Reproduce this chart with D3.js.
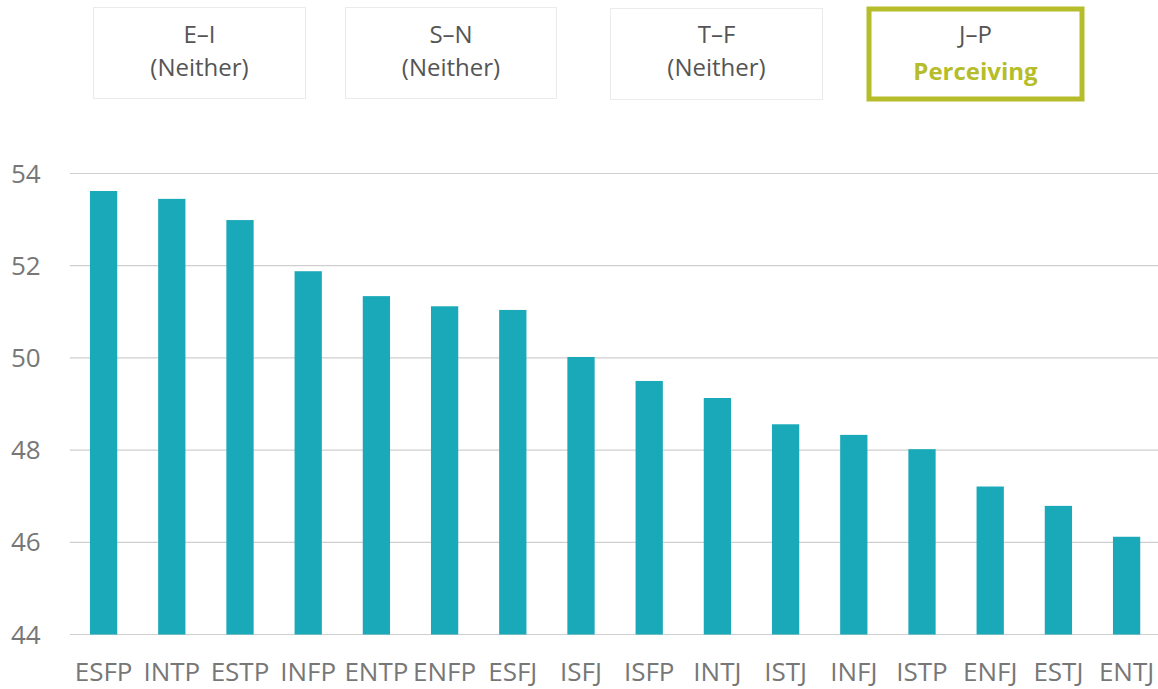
<!DOCTYPE html>
<html>
<head>
<meta charset="utf-8">
<script src="https://cdn.jsdelivr.net/npm/d3@7"></script>
<style>
  body { margin: 0; background: #fff; }
  svg { display: block; font-family: "Open Sans", sans-serif; }
</style>
</head>
<body>
<div id="chart"></div>
<script>
// chart size
const width = 1158;
const height = 689;

// data
const types = ["ESFP", "INTP", "ESTP", "INFP", "ENTP", "ENFP", "ESFJ", "ISFJ",
  "ISFP", "INTJ", "ISTJ", "INFJ", "ISTP", "ENFJ", "ESTJ", "ENTJ"];
const scores = [53.62, 53.45, 52.99, 51.88, 51.34, 51.12, 51.04, 50.02,
  49.50, 49.13, 48.56, 48.33, 48.02, 47.21, 46.79, 46.12];
const yTicks = [44, 46, 48, 50, 52, 54];

// the dichotomy boxes on top
const dimNames = ["E–I", "S–N", "T–F", "J–P"];
const dimResults = ["(Neither)", "(Neither)", "(Neither)", "Perceiving"];
const dimActive = [false, false, false, true];

const teal = "#19a9b8";
const olive = "#b5bd2a";

const svg = d3.select("#chart")
  .append("svg")
  .attr("width", width)
  .attr("height", height);

// box layout (x, y, w, h)
const boxLayout = [
  [93.5, 7.5, 212, 91],
  [345.5, 7.5, 211, 91],
  [610.5, 8.5, 212, 91],
  [869, 9, 213, 90],
];

const boxes = svg.selectAll("g.dim")
  .data(dimNames)
  .enter()
  .append("g")
  .attr("class", "dim");

boxes.append("rect")
  .attr("x", (d, i) => boxLayout[i][0])
  .attr("y", (d, i) => boxLayout[i][1])
  .attr("width", (d, i) => boxLayout[i][2])
  .attr("height", (d, i) => boxLayout[i][3])
  .attr("fill", "#fff")
  .attr("stroke", (d, i) => dimActive[i] ? olive : "#ebebeb")
  .attr("stroke-width", (d, i) => dimActive[i] ? 5 : 1);

boxes.append("text")
  .attr("x", (d, i) => boxLayout[i][0] + boxLayout[i][2] / 2)
  .attr("y", 43)
  .attr("text-anchor", "middle")
  .attr("font-size", 24)
  .attr("fill", "#555")
  .text((d) => d);

boxes.append("text")
  .attr("x", (d, i) => boxLayout[i][0] + boxLayout[i][2] / 2)
  .attr("y", (d, i) => dimActive[i] ? 80 : 76)
  .attr("text-anchor", "middle")
  .attr("font-size", 24)
  .attr("font-weight", (d, i) => dimActive[i] ? 700 : 400)
  .attr("fill", (d, i) => dimActive[i] ? olive : "#555")
  .text((d, i) => dimResults[i]);

// scales
const x = d3.scaleBand()
  .domain(types)
  .range([69.5, 1160.7])
  .paddingInner(0.6)
  .paddingOuter(0.3);

const y = d3.scaleLinear()
  .domain([44, 54])
  .range([634.5, 173.5]);

// gridlines
svg.append("g")
  .selectAll("line")
  .data(yTicks)
  .enter()
  .append("line")
  .attr("x1", 70)
  .attr("x2", width)
  .attr("y1", (d) => y(d))
  .attr("y2", (d) => y(d))
  .attr("stroke", "#cfcfcf")
  .attr("stroke-width", 1.2);

// y tick labels
svg.append("g")
  .selectAll("text")
  .data(yTicks)
  .enter()
  .append("text")
  .attr("x", 11)
  .attr("y", (d) => y(d) + 9)
  .attr("font-size", 26)
  .attr("fill", "#777")
  .text((d) => d);

// bars
svg.append("g")
  .selectAll("rect")
  .data(types)
  .enter()
  .append("rect")
  .attr("x", (d) => x(d))
  .attr("width", x.bandwidth())
  .attr("y", (d, i) => y(scores[i]))
  .attr("height", (d, i) => y(44) - y(scores[i]))
  .attr("fill", teal);

// x labels
svg.append("g")
  .selectAll("text")
  .data(types)
  .enter()
  .append("text")
  .attr("x", (d) => x(d) + x.bandwidth() / 2)
  .attr("y", 681)
  .attr("text-anchor", "middle")
  .attr("font-size", 26)
  .attr("fill", "#777")
  .text((d) => d);
</script>
</body>
</html>
